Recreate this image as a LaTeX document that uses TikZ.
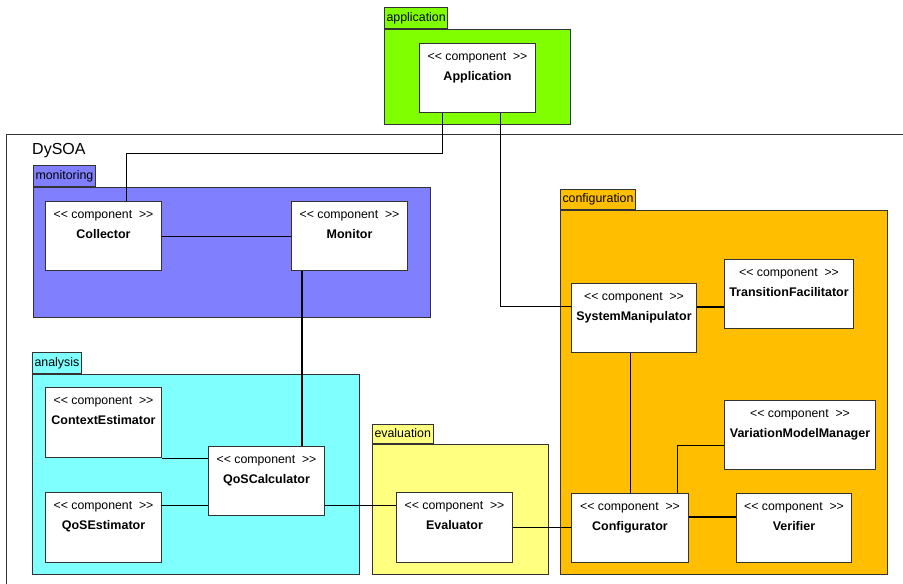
\documentclass[tikz,border=0pt]{standalone}
\usepackage{fontspec}
\newfontfamily\arialf{Liberation Sans}
\usetikzlibrary{calc}
\definecolor{pgreen}{RGB}{128,255,0}
\definecolor{pblue}{RGB}{128,128,255}
\definecolor{pcyan}{RGB}{128,255,255}
\definecolor{pyellow}{RGB}{255,255,128}
\definecolor{porange}{RGB}{255,191,0}
\definecolor{bordergray}{RGB}{51,51,51}
\tikzset{
  pkgbody/.style={draw=bordergray, line width=1pt, anchor=north west, inner sep=0pt},
  pkgtab/.style={draw=bordergray, line width=1pt, anchor=south west, inner xsep=2pt, inner ysep=0pt,
     minimum height=21pt, text height=9pt, text depth=3pt, font=\arialf\fontsize{12.4}{14}\selectfont},
  compbox/.style={draw=bordergray, fill=white, line width=1pt, anchor=north west, inner sep=0pt},
  stereo/.style={anchor=base, inner sep=0pt, font=\arialf\fontsize{12.3}{14}\selectfont},
  cname/.style={anchor=base, inner sep=0pt, font=\arialf\bfseries\fontsize{12.5}{14}\selectfont},
  conn/.style={draw=black, line width=1pt},
  thickconn/.style={draw=black, line width=2pt},
}
\newcommand\mkcomp[6]{%
  \node[compbox, minimum width=#4pt, minimum height=#5pt] (#1) at (#2,#3) {};
  \node[stereo] (#1-s) at ([yshift=-17pt]#1.north) {<<~component~~>>};
  \node[cname] (#1-n) at ([yshift=-37pt]#1.north) {#6};
}
\begin{document}
\begin{tikzpicture}[x=1pt,y=-1pt]
\clip (0,0) rectangle (903,584);
\fill[white] (0,0) rectangle (903,584);
% DySOA frame
\draw[line width=1pt, draw=bordergray] (6,700) -- (6,134) -- (1000,134);
\node[anchor=base west, inner sep=0pt, font=\arialf\fontsize{16}{18}\selectfont] (dysoa) at (32,154) {DySOA};

% packages
\node[pkgbody, fill=pgreen, minimum width=186pt, minimum height=95pt] (apppkg) at (384,29) {};
\node[pkgtab, fill=pgreen] (apptab) at (apppkg.north west) {application};
\node[pkgbody, fill=pblue, minimum width=397pt, minimum height=130pt] (monpkg) at (33,187) {};
\node[pkgtab, fill=pblue] (montab) at (monpkg.north west) {monitoring};
\node[pkgbody, fill=pcyan, minimum width=327pt, minimum height=200pt] (anapkg) at (32,374) {};
\node[pkgtab, fill=pcyan] (anatab) at (anapkg.north west) {analysis};
\node[pkgbody, fill=pyellow, minimum width=176pt, minimum height=130pt] (evpkg) at (372,444) {};
\node[pkgtab, fill=pyellow, minimum height=19pt] (evtab) at (evpkg.north west) {evaluation};
\node[pkgbody, fill=porange, minimum width=327pt, minimum height=364pt] (cfgpkg) at (560,210) {};
\node[pkgtab, fill=porange, minimum height=20pt] (cfgtab) at (cfgpkg.north west) {configuration};

% components
\mkcomp{app}{419}{43}{116}{69}{Application}
\mkcomp{col}{45}{201}{116}{69}{Collector}
\mkcomp{mon}{291}{201}{116}{69}{Monitor}
\mkcomp{ce}{45}{387}{116}{70}{ContextEstimator}
\mkcomp{qe}{45}{492}{116}{70}{QoSEstimator}
\mkcomp{qc}{208}{446}{116}{69}{QoSCalculator}
\mkcomp{ev}{396}{492}{116}{70}{Evaluator}
\mkcomp{sm}{571}{283}{125}{69}{SystemManipulator}
\mkcomp{tf}{724}{259}{129}{69}{TransitionFacilitator}
\mkcomp{vmm}{724}{400}{151}{69}{VariationModelManager}
\mkcomp{cfg}{571}{493}{117}{69}{Configurator}
\mkcomp{ver}{736}{493}{115}{69}{Verifier}

% connectors
\coordinate (a1) at ([xshift=-35pt]app.south);
\coordinate (c1) at ([xshift=23pt]col.north);
\draw[conn] (a1) |- ([yshift=48pt]c1) -- (c1);
\coordinate (a2) at ([xshift=23pt]app.south);
\coordinate (s1) at ([yshift=11.5pt]sm.west);
\draw[conn] (a2) |- (s1);
\draw[conn] (col.east) -- (col.east -| mon.west);
\coordinate (m1) at ([xshift=11pt]mon.south west);
\draw[thickconn] (m1) -- (m1 |- qc.north);
\draw[conn] (ce.south east) -- (ce.south east -| qc.west);
\coordinate (q1) at ([yshift=-24.5pt]qc.west);
\draw[conn] (q1) -- (q1 -| qe.east);
\coordinate (q2) at ([yshift=-24.5pt]qc.east);
\draw[conn] (q2) -- (q2 -| ev.west);
\draw[conn] (ev.east) -- (ev.east -| cfg.west);
\coordinate (s2) at ([yshift=11.5pt]sm.east);
\draw[thickconn] (s2) -- (s2 -| tf.west);
\draw[conn] (cfg.north) -- (cfg.north |- sm.south);
\draw[conn] ([xshift=-12pt]cfg.north east) |- ([yshift=-10.5pt]vmm.west);
\coordinate (f1) at ([yshift=11.5pt]cfg.east);
\draw[thickconn] (f1) -- (f1 -| ver.west);
\end{tikzpicture}
\end{document}
